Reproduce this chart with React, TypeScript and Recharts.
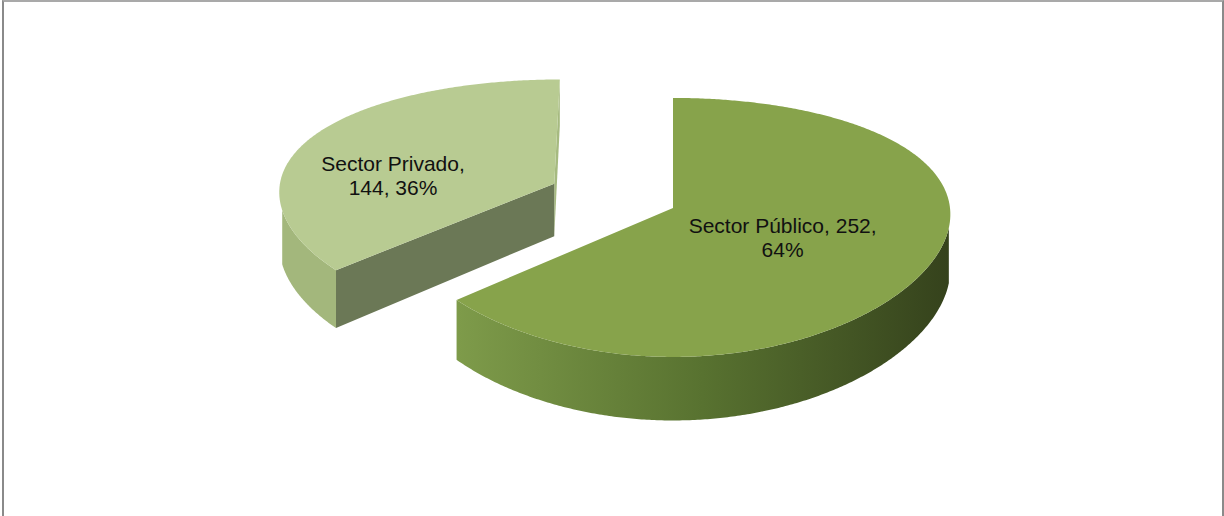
import { PieChart, Pie } from 'recharts';

const sectors = ['Sector Público', 'Sector Privado'];
const counts = [252, 144];

const data = sectors.map((name, i) => ({ name, value: counts[i] }));

// fake 3D: perspective in y and x, tilt (ry/rx), thickness in px
const K = 0.15;
const KX = 0.05;
const TILT = 0.457;
const DEPTH = 54;
const EXPLODE = [0, 0.476];
const COLORS = [
  { top: '#87a34b', side: 'url(#pubSide)', cutA: '#3f4f22', cutB: '#3f4f22' },
  { top: '#b8cb92', side: '#a3b77c', cutA: '#a6ba80', cutB: '#6b7856' },
];
// label spot relative to the slice apex, and words on the first line
const LABEL_AT = [
  { r: 0.452, turn: -5.5 },
  { r: 0.596, turn: 17.5 },
];
const LABEL_WRAP = [3, 2];

const rad = (d: number) => (d * Math.PI) / 180;
const CAM_V = -1 / K;

function project(cx: number, cy: number, R: number, u: number, v: number, h: number) {
  const s = 1 / (1 + K * v);
  const sx = 1 / (1 + KX * v);
  return [cx + R * u * sx, cy - R * TILT * v * s + DEPTH * h * s];
}

const pts = (arr: number[][]) => arr.map(p => p.join(',')).join(' ');

function Slice3D(props: any) {
  const { cx, cy, outerRadius: R, startAngle, endAngle, midAngle, index } = props;
  const a1 = Math.min(startAngle, endAngle);
  const a2 = Math.max(startAngle, endAngle);
  const e = EXPLODE[index] ?? 0;
  const ox = e * Math.cos(rad(midAngle));
  const oy = e * Math.sin(rad(midAngle));
  const P = (ang: number, r: number, h: number) =>
    project(cx, cy, R, ox + r * Math.cos(rad(ang)), oy + r * Math.sin(rad(ang)), h);
  const col = COLORS[index] ?? COLORS[0];

  // cut faces, only those turned to the camera
  const cuts: any[] = [];
  [
    [a1, a1 - 90, col.cutA],
    [a2, a2 + 90, col.cutB],
  ].forEach(([ang, nAng, fill]: any[], k) => {
    const mu = ox + 0.5 * Math.cos(rad(ang));
    const mv = oy + 0.5 * Math.sin(rad(ang));
    const dot = Math.cos(rad(nAng)) * -mu + Math.sin(rad(nAng)) * (CAM_V - mv);
    if (dot > 0.01) {
      cuts.push(
        <polygon
          key={'c' + k}
          points={pts([P(ang, 0, 0), P(ang, 1, 0), P(ang, 1, 1), P(ang, 0, 1)])}
          fill={fill}
        />
      );
    }
  });

  // outer wall, split into visible runs
  const steps = Math.ceil((a2 - a1) / 0.5);
  const runs: number[][] = [];
  let run: number[] = [];
  const arc: number[][] = [];
  for (let i = 0; i <= steps; i++) {
    const ang = a1 + ((a2 - a1) * i) / steps;
    arc.push(P(ang, 1, 0));
    const c = Math.cos(rad(ang));
    const s = Math.sin(rad(ang));
    const dot = c * -(ox + c) + s * (CAM_V - (oy + s));
    if (dot > 0) run.push(ang);
    else {
      if (run.length > 1) runs.push(run);
      run = [];
    }
  }
  if (run.length > 1) runs.push(run);

  return (
    <g>
      <defs>
        <linearGradient id='pubSide' x1='0' y1='0' x2='1' y2='0'>
          <stop offset='0' stopColor='#7e9b4a' />
          <stop offset='0.5' stopColor='#587230' />
          <stop offset='1' stopColor='#35421c' />
        </linearGradient>
      </defs>
      {cuts}
      {runs.map((r, i) => (
        <polygon
          key={'w' + i}
          points={pts([...r.map(a => P(a, 1, 0)), ...[...r].reverse().map(a => P(a, 1, 1))])}
          fill={col.side}
        />
      ))}
      <polygon points={pts([P(a1, 0, 0), ...arc])} fill={col.top} />
    </g>
  );
}

function SliceLabel(props: any) {
  const { cx, cy, outerRadius: R, midAngle, index, name, value, percent } = props;
  const e = EXPLODE[index] ?? 0;
  const spot = LABEL_AT[index] ?? { r: 0.5, turn: 0 };
  const ang = rad(midAngle + spot.turn);
  const u = e * Math.cos(rad(midAngle)) + spot.r * Math.cos(ang);
  const v = e * Math.sin(rad(midAngle)) + spot.r * Math.sin(ang);
  const [x, y] = project(cx, cy, R, u, v, 0);
  const words = `${name}, ${value}, ${Math.round(percent * 100)}%`.split(' ');
  const cut = LABEL_WRAP[index] ?? words.length;
  return (
    <text
      x={x}
      y={y}
      textAnchor='middle'
      fill='#111'
      fontSize={21}
      fontFamily='"Liberation Sans", Arial, sans-serif'
    >
      <tspan x={x} y={y - 4.5}>
        {words.slice(0, cut).join(' ')}
      </tspan>
      <tspan x={x} y={y + 19.5}>
        {words.slice(cut).join(' ')}
      </tspan>
    </text>
  );
}

export default function App() {
  return (
    <div style={{ position: 'absolute', left: 0, top: 0, width: 1224, height: 516, background: '#fff' }}>
      <div
        style={{
          position: 'absolute',
          left: 2,
          top: 0,
          width: 1218,
          height: 516,
          borderTop: '2px solid #a9a9a9',
          borderLeft: '2px solid #8a8a8a',
          borderRight: '2px solid #8a8a8a',
          boxSizing: 'content-box',
        }}
      />
      <PieChart width={1224} height={516} margin={{ top: 0, right: 0, bottom: 0, left: 0 }}>
        <Pie
          data={data}
          dataKey='value'
          nameKey='name'
          cx={673}
          cy={208}
          outerRadius={277}
          startAngle={90}
          endAngle={-270}
          stroke='none'
          shape={Slice3D}
          label={SliceLabel}
          labelLine={false}
          isAnimationActive={false}
        />
      </PieChart>
    </div>
  );
}
